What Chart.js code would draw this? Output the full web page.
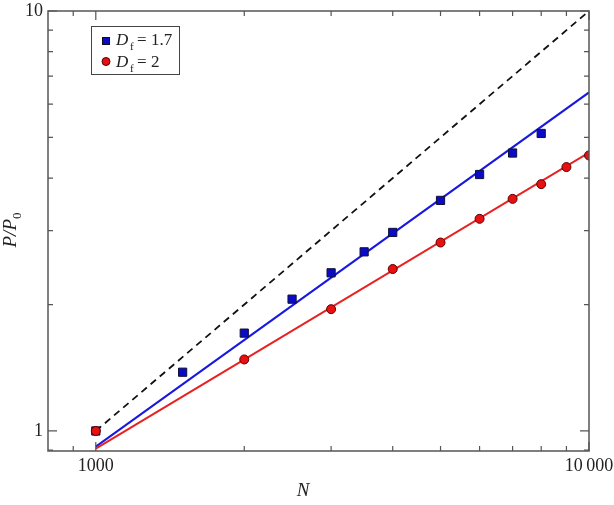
<!DOCTYPE html>
<html>
<head>
<meta charset="utf-8">
<script src="https://cdn.jsdelivr.net/npm/chart.js@4/dist/chart.umd.min.js"></script>
<style>
  html, body { margin: 0; padding: 0; background: #fff; }
  #wrap { width: 614px; height: 505px; }
</style>
</head>
<body>
<div id="wrap"><canvas id="chart" width="614" height="505"></canvas></div>
<script>
// data
const nBlue = [1000, 1500, 2000, 2500, 3000, 3500, 4000, 5000, 6000, 7000, 8000];
const pBlue = [1.00, 1.38, 1.71, 2.06, 2.38, 2.67, 2.97, 3.54, 4.08, 4.59, 5.11];
const nRed = [1000, 2000, 3000, 4000, 5000, 6000, 7000, 8000, 9000, 10000];
const pRed = [1.00, 1.48, 1.95, 2.43, 2.81, 3.20, 3.57, 3.87, 4.25, 4.53];
const fitN = [1000, 10000];
const fitBlue = [0.918, 6.40];
const fitRed = [0.908, 4.60];
const refLine = [1, 10];

const xMajor = [1000, 10000];
const xMinor = [900, 2000, 3000, 4000, 5000, 6000, 7000, 8000, 9000];
const yMajor = [1, 10];
const yMinor = [0.9, 2, 3, 4, 5, 6, 7, 8, 9];

const serif = "\"Liberation Serif\", \"DejaVu Serif\", serif";
const axisColor = "#555";

const pts = (xs, ys) => xs.map((x, i) => ({ x: x, y: ys[i] }));

function noPad(s) {
  s.paddingLeft = 0;
  s.paddingRight = 0;
  s.paddingTop = 0;
  s.paddingBottom = 0;
}

const frame = {
  id: "frame",
  afterDatasetsDraw(chart) {
    const ctx = chart.ctx;
    const a = chart.chartArea;
    const xs = chart.scales.x;
    const ys = chart.scales.y;
    ctx.save();
    ctx.strokeStyle = axisColor;
    ctx.lineWidth = 1.5;
    ctx.strokeRect(a.left, a.top, a.right - a.left, a.bottom - a.top);

    ctx.lineWidth = 1.2;
    ctx.beginPath();
    const tickX = (v, len) => {
      const px = xs.getPixelForValue(v);
      ctx.moveTo(px, a.bottom); ctx.lineTo(px, a.bottom - len);
      ctx.moveTo(px, a.top); ctx.lineTo(px, a.top + len);
    };
    const tickY = (v, len) => {
      const py = ys.getPixelForValue(v);
      ctx.moveTo(a.left, py); ctx.lineTo(a.left + len, py);
      ctx.moveTo(a.right, py); ctx.lineTo(a.right - len, py);
    };
    xMajor.forEach(v => tickX(v, 9));
    xMinor.forEach(v => tickX(v, 5));
    yMajor.forEach(v => tickY(v, 9));
    yMinor.forEach(v => tickY(v, 5));
    ctx.stroke();

    // axis titles
    ctx.fillStyle = "#222";
    ctx.textBaseline = "alphabetic";
    ctx.textAlign = "center";
    ctx.font = "italic 19px " + serif;
    ctx.fillText("N", 303, 496);

    ctx.save();
    ctx.translate(16, 230);
    ctx.rotate(-Math.PI / 2);
    ctx.textAlign = "left";
    ctx.font = "italic 19px " + serif;
    const main = "P/P";
    const w = ctx.measureText(main).width;
    ctx.font = "13px " + serif;
    const ws = ctx.measureText("0").width;
    const start = -(w + ws) / 2;
    ctx.font = "italic 19px " + serif;
    ctx.fillText(main, start, 0);
    ctx.font = "13px " + serif;
    ctx.fillText("0", start + w, 5);
    ctx.restore();

    // legend
    ctx.strokeStyle = "#444";
    ctx.lineWidth = 1;
    ctx.strokeRect(91.5, 26.5, 88, 48);

    ctx.fillStyle = "#0a0ac8";
    ctx.strokeStyle = "#111";
    ctx.fillRect(102.5, 37.5, 7, 7);
    ctx.strokeRect(102.5, 37.5, 7, 7);
    ctx.beginPath();
    ctx.arc(106, 61.5, 4, 0, Math.PI * 2);
    ctx.fillStyle = "#e81010";
    ctx.fill();
    ctx.strokeStyle = "#500";
    ctx.stroke();

    ctx.fillStyle = "#222";
    const row = (y, val) => {
      ctx.textAlign = "left";
      ctx.font = "italic 17px " + serif;
      ctx.fillText("D", 116, y);
      ctx.font = "11px " + serif;
      ctx.fillText("f", 130, y + 5);
      ctx.font = "17px " + serif;
      ctx.fillText("=", 137, y);
      ctx.fillText(val, 151, y);
    };
    row(45, "1.7");
    row(67, "2");
    ctx.restore();
  }
};

new Chart(document.getElementById("chart"), {
  type: "scatter",
  data: {
    datasets: [
      {
        data: pts(nRed, pRed),
        pointStyle: "circle",
        pointRadius: 4.5,
        backgroundColor: "#e81010",
        borderColor: "#5a0000",
        borderWidth: 1
      },
      {
        data: pts(nBlue, pBlue),
        pointStyle: "rect",
        pointRadius: 5.8,
        backgroundColor: "#0a0ac8",
        borderColor: "#111133",
        borderWidth: 1
      },
      {
        data: pts(fitN, fitRed),
        showLine: true,
        pointRadius: 0,
        borderColor: "#e82020",
        borderWidth: 2
      },
      {
        data: pts(fitN, fitBlue),
        showLine: true,
        pointRadius: 0,
        borderColor: "#1818e0",
        borderWidth: 2
      },
      {
        data: pts(fitN, refLine),
        showLine: true,
        pointRadius: 0,
        borderColor: "#111",
        borderWidth: 1.8,
        borderDash: [7, 5]
      }
    ]
  },
  options: {
    responsive: false,
    animation: false,
    events: [],
    layout: {
      autoPadding: false,
      padding: { left: 0, top: 11, right: 25, bottom: 0 }
    },
    plugins: {
      legend: { display: false },
      tooltip: { enabled: false }
    },
    scales: {
      x: {
        type: "logarithmic",
        min: 800,
        max: 10000,
        afterFit: s => { s.height = 54; noPad(s); },
        afterBuildTicks: s => { s.ticks = xMajor.map(v => ({ value: v })); },
        grid: { display: false, drawTicks: false },
        border: { display: false },
        ticks: {
          autoSkip: false,
          maxRotation: 0,
          padding: 4,
          color: "#222",
          font: { family: serif, size: 18 },
          callback: v => v === 10000 ? "10\u2009000" : String(v)
        }
      },
      y: {
        type: "logarithmic",
        min: 0.896,
        max: 10,
        afterFit: s => { s.width = 48; noPad(s); },
        afterBuildTicks: s => { s.ticks = yMajor.map(v => ({ value: v })); },
        grid: { display: false, drawTicks: false },
        border: { display: false },
        ticks: {
          autoSkip: false,
          padding: 5,
          color: "#222",
          font: { family: serif, size: 18 },
          callback: v => String(v)
        }
      }
    }
  },
  plugins: [frame]
});
</script>
</body>
</html>
